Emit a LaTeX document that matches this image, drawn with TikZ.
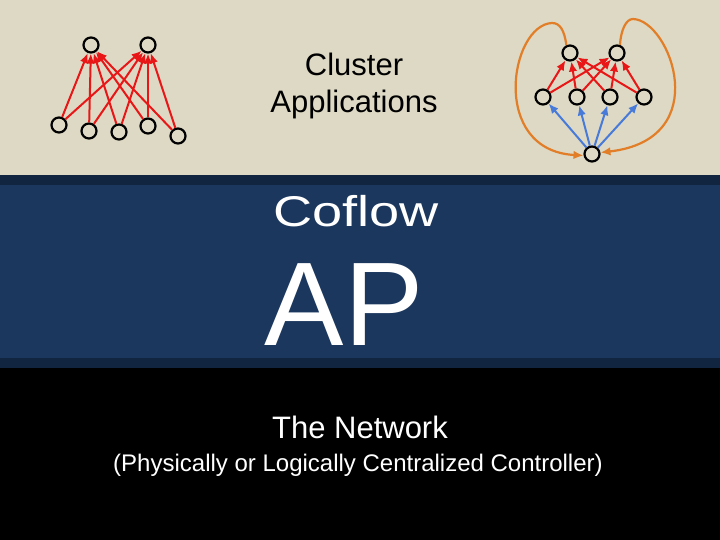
\documentclass[tikz,border=0pt]{standalone}
\usepackage{fontspec}
\setmainfont{Liberation Sans}
\usepackage{graphicx}
\usetikzlibrary{arrows.meta}
\usetikzlibrary{calc}

\definecolor{slidetan}{RGB}{221,217,196}
\definecolor{slidenavy}{RGB}{27,55,94}
\definecolor{slidedark}{RGB}{17,36,64}
\definecolor{flowred}{RGB}{232,22,22}
\definecolor{flowblue}{RGB}{72,122,218}
\definecolor{flowloop}{RGB}{226,126,40}

\tikzset{
	task/.style={circle, draw=black, line width=2.2bp, minimum size=15bp, inner sep=0pt},
	flow/.style={line width=2bp, -{Latex[length=10bp,width=8.5bp]}},
	loopflow/.style={flow, flowloop, line width=2.2bp},
	slidetext/.style={anchor=base, inner sep=0pt},
}

\begin{document}
\begin{tikzpicture}[x=1bp, y=-1bp]
	% bands of the slide
	\fill[slidetan] (0,0) rectangle (720,175);
	\fill[slidedark] (0,175) rectangle (720,185);
	\fill[slidenavy] (0,185) rectangle (720,358);
	\fill[slidedark] (0,358) rectangle (720,368);
	\fill[black] (0,368) rectangle (720,540);
	\useasboundingbox (0,0) rectangle (720,540);
	
	% texts
	\node[slidetext, font=\fontsize{31bp}{37bp}\selectfont] (cluster) at (354,76) {Cluster};
	\node[slidetext, font=\fontsize{31bp}{37bp}\selectfont] (apps) at (354,113) {Applications};
	\node[slidetext, text=white, font=\fontsize{43bp}{50bp}\selectfont] (coflow) at (356,227) {\scalebox{1.26}[1]{Coflow}};
	\node[slidetext, text=white, font=\fontsize{119bp}{140bp}\selectfont] (ap) at (344,345) {AP};
	\node[slidetext, text=white, font=\fontsize{31bp}{37bp}\selectfont] (net) at (360,438) {The Network};
	\node[slidetext, text=white, font=\fontsize{24bp}{29bp}\selectfont] (ctrl) at (358,471) {(Physically or Logically Centralized Controller)};
	
	% left application: two stages
	\node[task] (t1) at (91,45) {};
	\node[task] (t2) at (148,45) {};
	\node[task] (s1) at (59,125) {};
	\node[task] (s2) at (89,131) {};
	\node[task] (s3) at (119,132) {};
	\node[task] (s4) at (148,126) {};
	\node[task] (s5) at (178,136) {};
	\foreach \s in {1,...,5}
		\foreach \t in {1,2}
			\draw[flow, flowred] (s\s) -- (t\t);
	
	% right application: three stages with loops
	\node[task] (r1) at (570,53) {};
	\node[task] (r2) at (617,53) {};
	\node[task] (m1) at (543,97) {};
	\node[task] (m2) at (577,97) {};
	\node[task] (m3) at (610,97) {};
	\node[task] (m4) at (644,97) {};
	\node[task] (hub) at (592,154) {};
	\foreach \m in {1,...,4} {
		\draw[flow, flowred] (m\m) -- (r1);
		\draw[flow, flowred] (m\m) -- (r2);
		\draw[flow, flowblue] (hub) -- (m\m);
	}
	
	\coordinate (lpeak) at (552,23);
	\coordinate (rpeak) at (633,19);
	\draw[loopflow] (r1.115) .. controls +(-2,-15) and +(8,0) .. (lpeak)
		.. controls +(-42,2) and +(-94,-5) .. (hub.190);
	\draw[loopflow] (r2.70) .. controls +(1,-15) and +(-7,0) .. (rpeak)
		.. controls +(37,1) and +(115,-13) .. (hub.10);
\end{tikzpicture}
\end{document}
